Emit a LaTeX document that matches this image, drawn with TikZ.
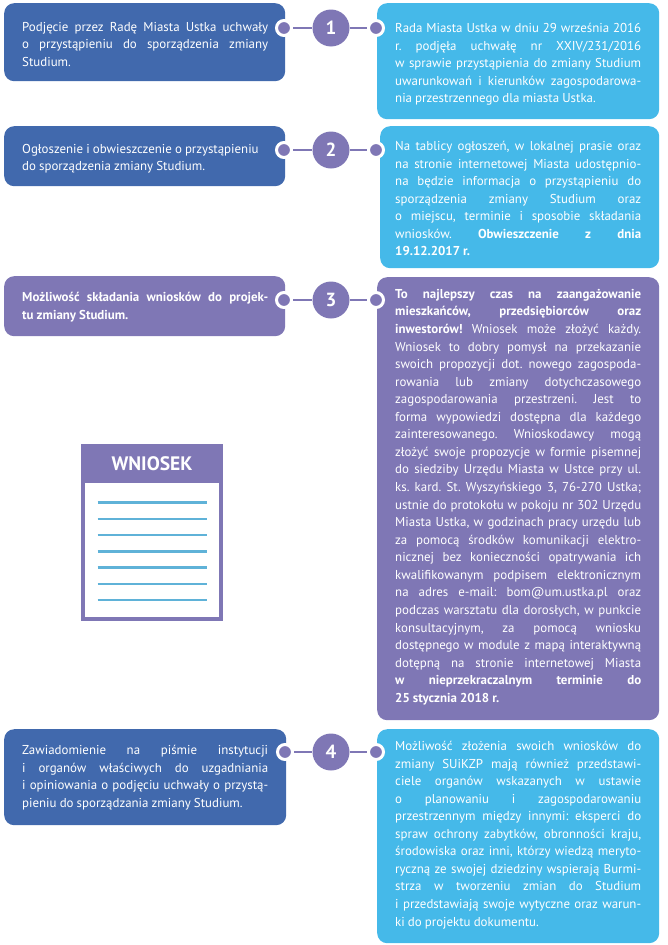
\documentclass[tikz,border=0pt]{standalone}
\usepackage{fontspec}
\setmainfont{PT Sans}
\definecolor{cblue}{HTML}{4169AD}
\definecolor{csky}{HTML}{45B9E9}
\definecolor{cpur}{HTML}{7F77B5}
\definecolor{cline}{HTML}{5FB2D8}
\newlength{\linew}
\newcommand{\jl}[1]{\noindent\hbox to\linew{\frenchspacing\spaceskip=.24em plus 1fil minus .08em\relax #1\unskip}\par}
\newcommand{\lln}[1]{\noindent\hbox to\linew{\frenchspacing\spaceskip=.24em\relax #1\hfil}\par}
\tikzset{
 boxb/.style={rectangle,rounded corners=10pt,inner sep=0,anchor=north west},
 txt/.style={anchor=north west,inner sep=0,text=white,font=\fontsize{12.9}{17.56}\selectfont,text width=\linew,align=left},
 num/.style={circle,fill=cpur,inner sep=0,minimum size=37pt,text=white,font=\fontsize{19}{20}\selectfont\bfseries},
 dotb/.style={circle,fill=cpur,draw=white,line width=3pt,inner sep=0,minimum size=15pt},
 conn/.style={draw=cpur,line width=2.6pt},
}
\setlength{\linew}{246pt}
\begin{document}
\begin{tikzpicture}[x=1pt,y=-1pt]
\useasboundingbox (0,0) rectangle (668,945);
% left boxes
\node[boxb,fill=cblue,minimum width=281pt,minimum height=78pt] (L1) at (4,3) {};
\node[boxb,fill=cblue,minimum width=281pt,minimum height=60pt] (L2) at (4,126) {};
\node[boxb,fill=cpur,minimum width=281pt,minimum height=60pt] (L3) at (4,276) {};
\node[boxb,fill=cblue,minimum width=282pt,minimum height=96pt] (L4) at (4,729) {};
% right boxes
\node[boxb,fill=csky,minimum width=282pt,minimum height=116pt] (R1) at (377,3) {};
\node[boxb,fill=csky,minimum width=279pt,minimum height=142pt] (R2) at (380,126) {};
\node[boxb,fill=cpur,minimum width=282pt,minimum height=443pt] (R3) at (377,277) {};
\node[boxb,fill=csky,minimum width=282pt,minimum height=214pt] (R4) at (377,729) {};
% numbers
\node[num] (N1) at (331,28) {1};
\node[num] (N2) at (331,150) {2};
\node[num] (N3) at (331,300) {3};
\node[num] (N4) at (331,752) {4};
\foreach \i/\y/\xl/\xr in {1/28/284/376,2/150/284/376,3/300/284/376,4/752/285/376}{
  \node[dotb] (DL\i) at (\xl,\y) {};
  \node[dotb] (DR\i) at (\xr,\y) {};
  \draw[conn] (DL\i) -- (N\i);
  \draw[conn] (N\i) -- (DR\i);
}
% left text
\node[txt] (TL1) at (22,22) {\jl{Podjęcie przez Radę Miasta Ustka uchwały}\jl{o przystąpieniu do sporządzenia zmiany}\lln{Studium.}};
\node[txt] (TL2) at (22,144) {\lln{Ogłoszenie i obwieszczenie o przystąpieniu}\lln{do sporządzenia zmiany Studium.}};
\node[txt] (TL3) at (22,292) {\jl{\bfseries Możliwość składania wniosków do projek-}\lln{\bfseries tu zmiany Studium.}};
\node[txt] (TL4) at (22,745) {\jl{Zawiadomienie na piśmie instytucji}\jl{i organów właściwych do uzgadniania}\jl{i opiniowania o podjęciu uchwały o przystą-}\lln{pieniu do sporządzania zmiany Studium.}};
% right text
\node[txt] (TR1) at (395,23) {\jl{Rada Miasta Ustka w dniu 29 września 2016}\jl{r. podjęła uchwałę nr XXIV/231/2016}\jl{w sprawie przystąpienia do zmiany Studium}\jl{uwarunkowań i kierunków zagospodarowa-}\lln{nia przestrzennego dla miasta Ustka.}};
\node[txt] (TR2) at (395,141) {\jl{Na tablicy ogłoszeń, w lokalnej prasie oraz}\jl{na stronie internetowej Miasta udostępnio-}\jl{na będzie informacja o przystąpieniu do}\jl{sporządzenia zmiany Studium oraz}\jl{o miejscu, terminie i sposobie składania}\jl{wniosków. \textbf{Obwieszczenie z dnia}}\lln{\bfseries 19.12.2017 r.}};
\node[txt] (TR3) at (395,289) {\jl{\bfseries To najlepszy czas na zaangażowanie}\jl{\bfseries mieszkańców, przedsiębiorców oraz}\jl{\textbf{inwestorów!} Wniosek może złożyć każdy.}\jl{Wniosek to dobry pomysł na przekazanie}\jl{swoich propozycji dot. nowego zagospoda-}\jl{rowania lub zmiany dotychczasowego}\jl{zagospodarowania przestrzeni. Jest to}\jl{forma wypowiedzi dostępna dla każdego}\jl{zainteresowanego. Wnioskodawcy mogą}\jl{złożyć swoje propozycje w formie pisemnej}\jl{do siedziby Urzędu Miasta w Ustce przy ul.}\jl{ks. kard. St. Wyszyńskiego 3, 76-270 Ustka;}\jl{ustnie do protokołu w pokoju nr 302 Urzędu}\jl{Miasta Ustka, w godzinach pracy urzędu lub}\jl{za pomocą środków komunikacji elektro-}\jl{nicznej bez konieczności opatrywania ich}\jl{kwalifikowanym podpisem elektronicznym}\jl{na adres e-mail: bom@um.ustka.pl oraz}\jl{podczas warsztatu dla dorosłych, w punkcie}\jl{konsultacyjnym, za pomocą wniosku}\jl{dostępnego w module z mapą interaktywną}\jl{dotępną na stronie internetowej Miasta}\jl{\bfseries w nieprzekraczalnym terminie do}\lln{\bfseries 25 stycznia 2018 r.}};
\node[txt] (TR4) at (395,741) {\jl{Możliwość złożenia swoich wniosków do}\jl{zmiany SUiKZP mają również przedstawi-}\jl{ciele organów wskazanych w ustawie}\jl{o planowaniu i zagospodarowaniu}\jl{przestrzennym między innymi: eksperci do}\jl{spraw ochrony zabytków, obronności kraju,}\jl{środowiska oraz inni, którzy wiedzą meryto-}\jl{ryczną ze swojej dziedziny wspierają Burmi-}\jl{strza w tworzeniu zmian do Studium}\jl{i przedstawiają swoje wytyczne oraz warun-}\lln{ki do projektu dokumentu.}};
% form icon
\node[rectangle,fill=cpur,inner sep=0,anchor=north west,minimum width=142pt,minimum height=177pt] (F) at (81,444) {};
\node[rectangle,fill=white,inner sep=0,anchor=north west,minimum width=134pt,minimum height=134pt] (FP) at (85,483) {};
\node[inner sep=0,text=white,font=\fontsize{19.5}{20}\selectfont\bfseries] (FT) at (152,464) {WNIOSEK};
\foreach \k/\y in {1/502.5,2/519,3/535,4/551.5,5/567.5,6/584,7/600}{
  \coordinate (A\k) at (97.5,\y);
  \coordinate (B\k) at (206.5,\y);
  \draw[cline,line width=2.2pt] (A\k) -- (B\k);
}
\end{tikzpicture}
\end{document}
